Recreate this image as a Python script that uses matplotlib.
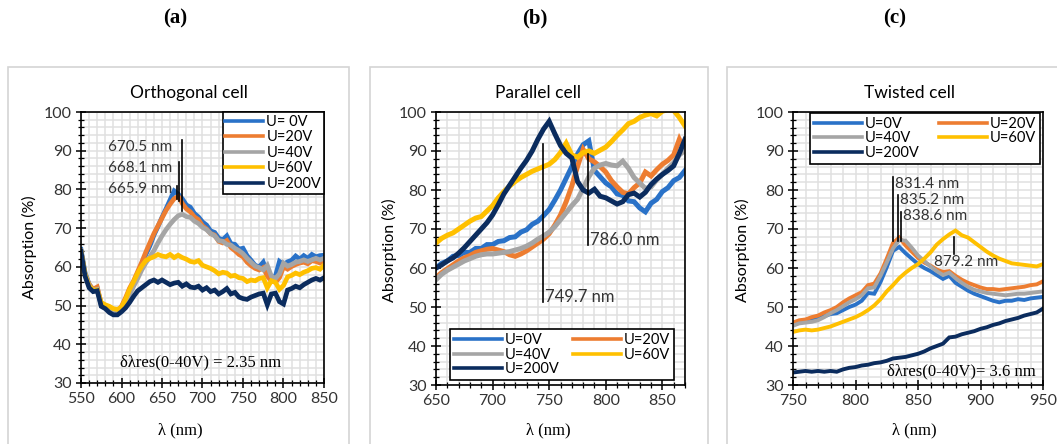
import numpy as np
import matplotlib
matplotlib.use("Agg")
import matplotlib.pyplot as plt
from matplotlib.patches import Rectangle
from matplotlib.ticker import MultipleLocator

W, H = 1057, 444
SANS = ["Lato", "DejaVu Sans"]
SERIF = ["Liberation Serif", "DejaVu Serif"]

COLORS = ["#2a72c8", "#ed7d31", "#a5a5a5", "#ffc000", "#0b2c5e"]

# ---------------- (a) Orthogonal cell ----------------
wl_a = np.arange(550, 851, 5)
labels_a = ["U= 0V", "U=20V", "U=40V", "U=60V", "U=200V"]
a_0V = [64.5, 58.5, 55.5, 54.0, 54.5, 50.0, 49.5, 48.5, 47.8, 47.8, 49.0,
        51.0, 53.8, 55.5, 58.2, 60.5, 63.2, 65.4, 68.2, 70.4, 72.8, 75.0, 77.3, 79.6, 78.8,
        77.6, 76.0, 75.4, 73.8, 72.9, 71.6, 70.8, 69.3, 68.9, 67.4, 67.0, 68.0, 66.0, 65.8,
        64.6, 64.8, 62.9, 61.7, 60.4, 60.0, 61.2, 58.4, 57.2, 57.6, 61.4, 60.6, 61.3, 61.7,
        62.8, 62.0, 62.9, 62.2, 63.2, 62.6, 62.9, 63.0]
a_20V = [64.0, 58.0, 55.5, 54.2, 54.8, 50.5, 50.0, 49.0, 48.5, 48.6, 49.8,
         52.0, 54.5, 56.4, 58.8, 61.2, 63.8, 66.2, 68.6, 70.6, 72.6, 74.6, 76.2, 77.6, 78.2,
         76.4, 75.0, 74.2, 72.9, 72.2, 70.6, 69.8, 68.6, 68.2, 66.6, 66.2, 66.8, 65.0, 64.2,
         63.2, 62.6, 61.2, 60.3, 59.6, 59.2, 59.8, 57.6, 56.4, 56.0, 57.2, 60.0, 59.4, 60.1,
         60.6, 61.0, 61.2, 60.8, 61.6, 61.4, 61.0, 61.6]
a_40V = [64.0, 58.2, 55.2, 54.0, 54.2, 50.4, 49.8, 49.2, 48.6, 48.4, 49.2,
         51.0, 52.8, 55.0, 57.0, 59.2, 61.0, 62.6, 64.2, 66.2, 68.0, 69.6, 71.0, 72.2, 73.2,
         73.6, 73.0, 72.8, 71.8, 71.2, 70.2, 69.6, 68.6, 68.0, 66.8, 66.6, 65.8, 65.6, 64.8,
         64.2, 63.4, 62.2, 61.2, 60.2, 59.8, 59.2, 60.4, 57.6, 57.0, 58.2, 61.0, 60.2, 60.6,
         61.2, 61.4, 61.8, 61.4, 61.8, 62.2, 61.8, 62.2]
a_60V = [64.0, 58.0, 55.0, 54.0, 54.0, 50.8, 50.2, 49.8, 49.2, 49.0, 49.6,
         51.6, 54.2, 56.2, 58.4, 60.2, 61.6, 62.2, 62.6, 63.2, 62.8, 62.6, 63.2, 62.4, 63.0,
         62.4, 62.0, 61.4, 61.2, 61.6, 60.4, 60.0, 59.6, 59.0, 58.2, 58.6, 58.4, 57.6, 57.8,
         57.2, 57.0, 56.2, 56.6, 56.4, 57.0, 57.2, 54.6, 56.4, 56.0, 54.2, 55.2, 57.4, 57.8,
         58.4, 58.0, 58.6, 59.0, 59.6, 59.8, 59.4, 60.4]
a_200V = [64.0, 57.6, 54.6, 53.6, 53.8, 49.8, 49.2, 48.2, 47.6, 47.6, 48.4,
          49.4, 50.8, 52.4, 53.8, 54.6, 55.4, 56.2, 56.6, 56.0, 56.6, 56.0, 55.4, 55.8, 56.0,
          55.0, 55.6, 54.8, 54.6, 55.0, 54.0, 54.6, 53.6, 54.0, 53.0, 53.6, 54.4, 53.0, 53.4,
          52.2, 51.8, 51.6, 52.2, 52.6, 53.0, 53.2, 50.2, 53.0, 53.2, 51.0, 50.4, 54.0, 54.4,
          55.0, 54.6, 55.4, 56.0, 56.6, 57.0, 56.6, 57.2]

# ---------------- (b) Parallel cell ----------------
wl_b = np.arange(650, 871, 5)
labels_b = ["U=0V", "U=20V", "U=40V", "U=60V", "U=200V"]
b_0V = [60.0, 61.2, 61.8, 63.0, 63.2, 64.0, 64.0, 65.0, 65.0, 66.0, 66.0,
        66.8, 67.0, 67.8, 68.0, 69.2, 69.8, 71.2, 72.0, 73.4, 75.0,
        77.4, 80.0, 83.0, 86.0, 89.2, 91.6, 92.6, 85.0, 83.4, 81.8,
        80.8, 79.0, 78.6, 77.2, 77.0, 75.4, 74.4, 76.6, 77.6, 79.6,
        80.6, 82.4, 83.2, 85.0]
b_20V = [57.6, 58.8, 59.8, 60.8, 61.8, 62.6, 63.2, 64.0, 64.4, 64.8, 65.0,
         64.6, 64.2, 63.4, 63.0, 63.6, 64.4, 65.4, 66.4, 67.4, 68.8,
         71.0, 73.6, 77.0, 81.0, 86.0, 90.4, 88.0, 87.2, 86.0, 84.6,
         82.4, 80.8, 79.4, 79.0, 80.6, 81.8, 84.6, 83.6, 85.2, 86.6,
         87.6, 89.0, 93.0, 90.0]
b_40V = [57.0, 58.4, 59.4, 60.2, 61.0, 61.8, 62.4, 63.0, 63.4, 63.6, 63.6,
         63.8, 64.0, 64.2, 64.6, 65.0, 65.6, 66.4, 67.4, 68.2, 69.2,
         70.6, 72.4, 74.2, 76.0, 77.6, 80.4, 83.4, 85.6, 86.4, 86.8,
         86.4, 86.2, 87.4, 85.6, 83.2, 81.8, 80.4, 80.8, 82.6, 84.0,
         85.6, 87.0, 89.0, 90.2]
b_60V = [66.4, 67.6, 68.4, 69.0, 70.0, 71.0, 72.0, 72.8, 73.2, 74.6, 76.0,
         78.0, 79.6, 81.0, 82.2, 83.2, 84.0, 84.8, 85.4, 86.0, 86.6,
         87.8, 89.6, 92.0, 89.0, 88.4, 89.6, 90.0, 89.4, 90.2, 91.0,
         92.4, 94.0, 95.4, 97.0, 97.6, 98.6, 99.2, 99.6, 99.0, 100.2,
         100.6, 100.4, 98.6, 96.4]
b_200V = [60.0, 60.8, 61.8, 62.6, 63.8, 65.2, 66.8, 68.4, 70.0, 71.6, 73.6,
          76.2, 79.0, 81.2, 83.4, 85.6, 87.6, 90.0, 93.0, 95.6, 97.6,
          94.4, 91.4, 89.4, 88.2, 82.2, 80.0, 79.2, 80.2, 78.4, 78.0,
          77.2, 76.4, 77.0, 78.8, 79.2, 78.2, 79.4, 81.4, 82.8, 84.0,
          85.0, 86.2, 89.4, 93.0]

# ---------------- (c) Twisted cell ----------------
wl_c = np.arange(750, 951, 5)
labels_c = ["U=0V", "U=20V", "U=40V", "U=60V", "U=200V"]
c_0V = [45.6, 46.2, 46.4, 46.8, 47.2, 47.6, 48.2, 48.4, 49.2, 50.0, 50.6,
        51.6, 53.6, 53.4, 56.4, 60.2, 64.4, 65.4, 63.8, 62.4, 61.0,
        60.0, 59.2, 58.2, 57.2, 58.0, 56.2, 55.2, 54.2, 53.4, 52.8,
        52.2, 51.6, 51.2, 51.6, 51.6, 52.0, 51.8, 52.2, 52.4, 52.6]
c_20V = [46.0, 46.6, 46.8, 47.4, 47.8, 48.6, 49.2, 50.0, 51.2, 52.2, 53.0,
         53.8, 55.6, 56.0, 58.6, 62.4, 66.4, 67.8, 65.8, 64.2, 62.6,
         61.4, 60.6, 59.6, 59.0, 59.2, 58.0, 57.0, 56.2, 55.6, 55.0,
         54.6, 54.6, 54.4, 54.6, 54.8, 55.0, 55.2, 55.6, 55.8, 56.6]
c_40V = [45.2, 45.8, 46.0, 46.2, 46.6, 47.4, 48.4, 49.2, 50.2, 51.2, 52.0,
         53.0, 54.8, 55.0, 58.0, 61.4, 65.0, 67.2, 67.0, 65.2, 63.2,
         61.8, 60.4, 59.2, 58.2, 58.8, 57.4, 56.2, 55.2, 54.4, 54.0,
         53.6, 53.4, 53.2, 53.0, 53.2, 53.4, 53.4, 53.6, 53.8, 54.0]
c_60V = [43.6, 44.0, 44.2, 44.0, 44.2, 44.6, 45.0, 45.6, 46.2, 46.8, 47.4,
         48.2, 49.2, 50.4, 52.0, 54.0, 55.6, 57.4, 58.8, 60.0, 61.0,
         62.4, 64.0, 66.0, 67.4, 68.6, 69.6, 68.4, 67.8, 66.6, 65.4,
         64.2, 63.2, 62.4, 61.8, 61.2, 61.0, 60.8, 60.6, 60.4, 61.0]
c_200V = [33.2, 33.4, 33.6, 33.4, 33.6, 33.4, 33.6, 33.4, 34.0, 34.4, 34.6,
          35.0, 35.2, 35.6, 35.8, 36.2, 36.8, 37.0, 37.2, 37.6, 38.0,
          38.6, 39.4, 40.0, 40.6, 42.2, 42.4, 43.0, 43.4, 43.8, 44.4,
          44.8, 45.4, 45.8, 46.4, 46.8, 47.2, 47.8, 48.2, 48.6, 49.6]


fig = plt.figure(figsize=(W / 100, H / 100), dpi=100)


def px_axes(l, t, r, b):
    return fig.add_axes([l / W, 1 - b / H, (r - l) / W, (b - t) / H])


def fig_text(x, y, s, **kw):
    fig.text(x / W, 1 - y / H, s, **kw)


def style_axes(ax, xlim, xmajor):
    ax.set_xlim(*xlim)
    ax.set_ylim(30, 100)
    ax.xaxis.set_major_locator(MultipleLocator(xmajor))
    ax.xaxis.set_minor_locator(MultipleLocator(10))
    ax.yaxis.set_major_locator(MultipleLocator(10))
    ax.yaxis.set_minor_locator(MultipleLocator(2))
    ax.grid(which="both", color="#e0e0e0", lw=1.1)
    ax.set_axisbelow(True)
    ax.tick_params(which="major", direction="inout", length=7, width=1.1,
                   labelsize=11.5, labelcolor="#333333", pad=3)
    ax.tick_params(which="minor", direction="inout", length=4, width=0.9)
    for lab in ax.get_xticklabels() + ax.get_yticklabels():
        lab.set_family(SANS)
    for sp in ax.spines.values():
        sp.set_color("black")
        sp.set_linewidth(1.2)


def draw_series(ax, wl, series, labels, lw):
    lines = []
    for ys, lab, c in zip(series, labels, COLORS):
        ln, = ax.plot(wl, ys, color=c, lw=lw, label=lab, solid_joinstyle="miter")
        lines.append(ln)
    return lines


def box_legend(leg):
    leg.get_frame().set_linewidth(1.2)
    leg.get_frame().set_alpha(1)
    for h in leg.get_lines():
        h.set_linewidth(2.6)


# panel frames
for l, r in [(8, 349), (370, 708), (727, 1060)]:
    fig.patches.append(Rectangle((l / W, -0.01), (r - l) / W, 1 - 67 / H + 0.01,
                                 transform=fig.transFigure, fill=False,
                                 edgecolor="#d4d4d4", lw=1.2))

for x, s in [(175, "(a)"), (535, "(b)"), (895, "(c)")]:
    fig_text(x, 18, s, family=SERIF, fontsize=15, fontweight="bold",
             ha="center", va="center")

# ---- (a)
ax1 = px_axes(81, 112, 324, 383)
style_axes(ax1, (550, 850), 50)
draw_series(ax1, wl_a, [a_0V, a_20V, a_40V, a_60V, a_200V], labels_a, 3.4)
leg = ax1.legend(loc="upper right", bbox_to_anchor=(1.0, 1.0), borderaxespad=0,
                 fancybox=False, edgecolor="black",
                 handlelength=2.6, handletextpad=0.2, labelspacing=0.1,
                 borderpad=0.2, prop={"family": SANS, "size": 10.5})
box_legend(leg)
for x, y0, y1 in [(674.5, 74.5, 92.8), (670.5, 77.0, 87.2), (668.0, 77.5, 81.0)]:
    ax1.plot([x, x], [y0, y1], color="black", lw=1.2)
for y, s in [(91.0, "670.5 nm"), (85.6, "668.1 nm"), (80.2, "665.9 nm")]:
    ax1.text(663, y, s, ha="right", va="center", family=SANS, fontsize=11, color="#333333")
ax1.text(698, 35.4, "δλres(0-40V) = 2.35 nm", ha="center", va="center",
         family=SERIF, fontsize=12)
fig_text(189, 93, "Orthogonal cell", ha="center", va="center", family=SANS, fontsize=12.5)
fig_text(29, 247, "Absorption (%)", ha="center", va="center", rotation=90,
         family=SANS, fontsize=11.5)
fig_text(180, 430, "λ (nm)", ha="center", va="center", family=SERIF, fontsize=12)

# ---- (b)
ax2 = px_axes(436, 112, 685, 385)
style_axes(ax2, (650, 870), 50)
ln2 = draw_series(ax2, wl_b, [b_0V, b_20V, b_40V, b_60V, b_200V], labels_b, 3.6)
order = [0, 2, 4, 1, 3]
leg = ax2.legend([ln2[i] for i in order], [labels_b[i] for i in order],
                 loc="lower left", bbox_to_anchor=(0.056, 0.018, 0.9, 0.2),
                 mode="expand", ncol=2, borderaxespad=0, fancybox=False,
                 edgecolor="black", handlelength=3.3, handletextpad=0.2,
                 labelspacing=0.05, borderpad=0.25, columnspacing=1.0,
                 prop={"family": SANS, "size": 10.5})
box_legend(leg)
ax2.plot([744.3, 744.3], [51.3, 91.9], color="black", lw=1.2)
ax2.plot([784.0, 784.0], [65.8, 89.3], color="black", lw=1.2)
ax2.text(746.5, 52.6, "749.7 nm", ha="left", va="center", family=SANS, fontsize=12, color="#333333")
ax2.text(786.5, 67.1, "786.0 nm", ha="left", va="center", family=SANS, fontsize=12, color="#333333")
fig_text(538, 93, "Parallel cell", ha="center", va="center", family=SANS, fontsize=12.5)
fig_text(389, 250, "Absorption (%)", ha="center", va="center", rotation=90,
         family=SANS, fontsize=11.5)
fig_text(548, 430, "λ (nm)", ha="center", va="center", family=SERIF, fontsize=12)

# ---- (c)
ax3 = px_axes(793, 112, 1043, 385)
style_axes(ax3, (750, 950), 50)
ln3 = draw_series(ax3, wl_c, [c_0V, c_20V, c_40V, c_60V, c_200V], labels_c, 2.8)
leg = ax3.legend([ln3[i] for i in order], [labels_c[i] for i in order],
                 loc="upper left", bbox_to_anchor=(0.068, 0.8, 0.92, 0.196),
                 mode="expand", ncol=2, borderaxespad=0, fancybox=False,
                 edgecolor="black", handlelength=3.3, handletextpad=0.2,
                 labelspacing=0.05, borderpad=0.25, columnspacing=1.0,
                 prop={"family": SANS, "size": 10.5})
box_legend(leg)
for x, y1 in [(830.0, 83.3), (834.0, 78.6), (836.7, 74.4)]:
    ax3.plot([x, x], [67.0, y1], color="black", lw=1.2)
for x, y, s in [(831.5, 81.6, "831.4 nm"), (835.5, 77.4, "835.2 nm"), (838.0, 73.4, "838.6 nm")]:
    ax3.text(x, y, s, ha="left", va="center", family=SANS, fontsize=11, color="#333333")
ax3.plot([878.5, 878.5], [63.7, 68.0], color="black", lw=1.2)
ax3.text(888.5, 61.6, "879.2 nm", ha="center", va="center", family=SANS, fontsize=11, color="#333333")
ax3.text(944, 33.4, "δλres(0-40V)= 3.6 nm", ha="right", va="center",
         family=SERIF, fontsize=12)
fig_text(910, 93, "Twisted cell", ha="center", va="center", family=SANS, fontsize=12.5)
fig_text(742, 250, "Absorption (%)", ha="center", va="center", rotation=90,
         family=SANS, fontsize=11.5)
fig_text(914, 430, "λ (nm)", ha="center", va="center", family=SERIF, fontsize=12)

fig.savefig("out.png", dpi=100)
